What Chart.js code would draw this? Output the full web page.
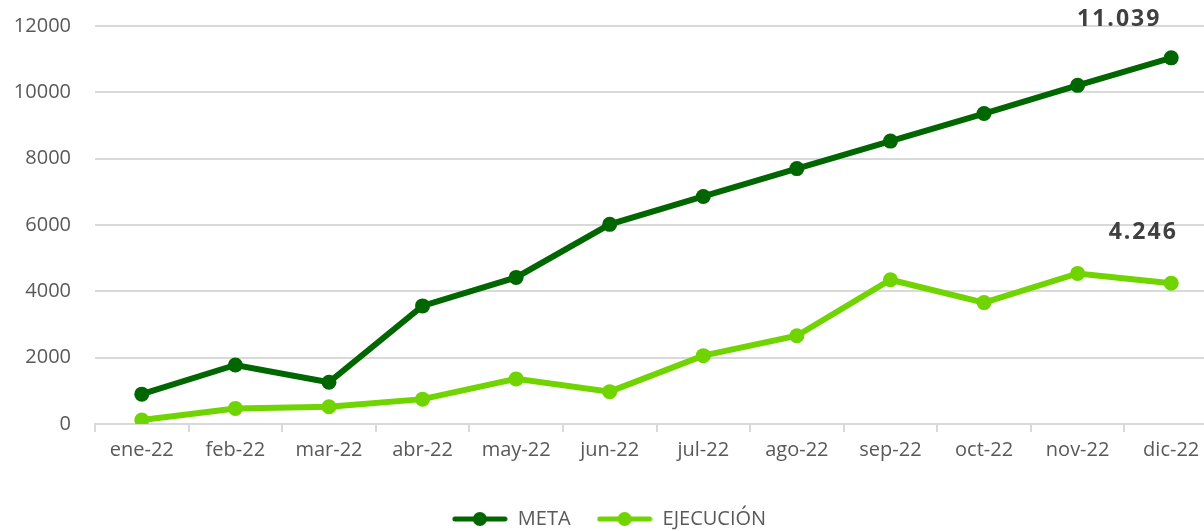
<!DOCTYPE html>
<html>
<head>
<meta charset="utf-8">
<script src="https://cdn.jsdelivr.net/npm/chart.js@4"></script>
<style>
  html, body { margin: 0; padding: 0; background: #fff; overflow: hidden; }
  #wrap { position: absolute; left: 0; top: 0; width: 1218px; height: 539px; }
</style>
</head>
<body>
<div id="wrap"><canvas id="grafico"></canvas></div>
<script>
// datos
var meses = ['ene-22', 'feb-22', 'mar-22', 'abr-22', 'may-22', 'jun-22', 'jul-22', 'ago-22', 'sep-22', 'oct-22', 'nov-22', 'dic-22'];
var meta = [900, 1780, 1260, 3560, 4420, 6020, 6860, 7700, 8530, 9360, 10210, 11039];
var ejecucion = [120, 470, 520, 750, 1360, 975, 2060, 2660, 4350, 3660, 4540, 4246];
var ticksY = [0, 2000, 4000, 6000, 8000, 10000, 12000];

var verdeOscuro = '#006600';
var verdeClaro = '#70d400';

function formato(n) {
    return String(n).replace(/\B(?=(\d{3})+(?!\d))/g, '.');
}

// icono de leyenda: linea con punto en el medio
function iconoLeyenda(color) {
    var c = document.createElement('canvas');
    c.width = 56;
    c.height = 16;
    var g = c.getContext('2d');
    g.strokeStyle = color;
    g.lineWidth = 5;
    g.lineCap = 'round';
    g.beginPath();
    g.moveTo(3, 8);
    g.lineTo(53, 8);
    g.stroke();
    g.fillStyle = color;
    g.beginPath();
    g.arc(28, 8, 7, 0, Math.PI * 2);
    g.fill();
    return c;
}

// etiqueta del ultimo valor de cada serie
var etiquetaFinal = {
    id: 'etiquetaFinal',
    afterDatasetsDraw: function (chart) {
        var ctx = chart.ctx;
        var desplaz = [[-52, -38], [-28, -51]];
        ctx.save();
        ctx.font = 'bold 23px "Open Sans"';
        ctx.letterSpacing = '2px';
        ctx.fillStyle = '#404040';
        ctx.textAlign = 'center';
        ctx.textBaseline = 'middle';
        chart.data.datasets.forEach(function (ds, i) {
            var pts = chart.getDatasetMeta(i).data;
            var p = pts[pts.length - 1];
            ctx.fillText(formato(ds.data[ds.data.length - 1]), p.x + desplaz[i][0], p.y + desplaz[i][1]);
        });
        ctx.restore();
    }
};

var ctx = document.getElementById('grafico').getContext('2d');
var grafico = new Chart(ctx, {
    type: 'line',
    data: {
        labels: meses,
        datasets: [{
            label: 'META',
            data: meta,
            borderColor: verdeOscuro,
            backgroundColor: verdeOscuro,
            borderWidth: 6,
            pointRadius: 7.5,
            pointBackgroundColor: verdeOscuro,
            pointBorderWidth: 0,
            tension: 0
        }, {
            label: 'EJECUCIÓN',
            data: ejecucion,
            borderColor: verdeClaro,
            backgroundColor: verdeClaro,
            borderWidth: 6,
            pointRadius: 7.5,
            pointBackgroundColor: verdeClaro,
            pointBorderWidth: 0,
            tension: 0
        }]
    },
    options: {
        responsive: true,
        maintainAspectRatio: false,
        animation: false,
        layout: { autoPadding: false, padding: { top: 26, left: 0, right: 0, bottom: 0 } },
        scales: {
            x: {
                offset: true,
                grid: { offset: true, drawOnChartArea: false, drawTicks: true, tickLength: 8, color: '#d9d9d9', lineWidth: 2 },
                border: { display: true, color: '#d9d9d9', width: 2 },
                ticks: { color: '#595959', font: { family: 'Open Sans', size: 20 }, padding: 6, maxRotation: 0, autoSkip: false },
                afterFit: function (s) { s.height = 59; }
            },
            y: {
                min: 0,
                max: 12000,
                afterBuildTicks: function (s) { s.ticks = ticksY.map(function (v) { return { value: v }; }); },
                grid: { color: '#d9d9d9', lineWidth: 2, drawTicks: true, tickLength: 24, tickColor: 'rgba(0,0,0,0)' },
                border: { display: false },
                ticks: { color: '#595959', font: { family: 'Open Sans', size: 20 }, padding: 0, callback: function (v) { return String(v); } },
                afterFit: function (s) { s.width = 95; }
            }
        },
        plugins: {
            legend: {
                position: 'bottom',
                labels: {
                    usePointStyle: true,
                    pointStyleWidth: 56,
                    padding: 26,
                    color: '#595959',
                    font: { family: 'Open Sans', size: 20 },
                    generateLabels: function (chart) {
                        var items = Chart.defaults.plugins.legend.labels.generateLabels(chart);
                        items.forEach(function (it, i) {
                            it.pointStyle = iconoLeyenda(i === 0 ? verdeOscuro : verdeClaro);
                        });
                        return items;
                    }
                }
            },
            tooltip: { enabled: false }
        }
    },
    plugins: [etiquetaFinal]
});
</script>
</body>
</html>
